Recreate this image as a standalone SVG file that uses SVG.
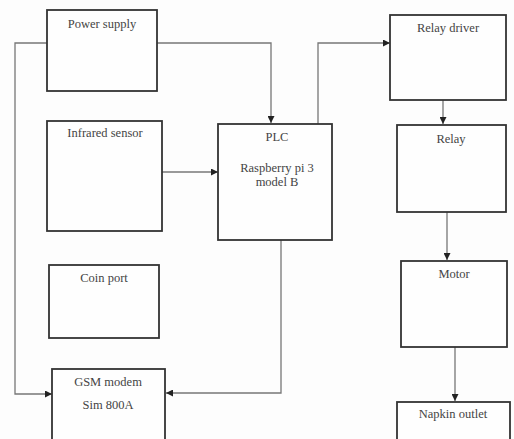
<svg xmlns="http://www.w3.org/2000/svg" width="514" height="439" viewBox="0 0 514 439">
<style>
.box{fill:#fefefe;stroke:#333;stroke-width:1.8}
.t{font-family:"Liberation Serif",serif;font-size:12.5px;fill:#444;text-anchor:middle}
.c{fill:none;stroke:#777;stroke-width:1.3}
</style>
<defs>
<marker id="ah" viewBox="0 0 10 10" refX="10" refY="5" markerWidth="7" markerHeight="7" markerUnits="userSpaceOnUse" orient="auto">
<path d="M0,0 L10,5 L0,10 z" fill="#222"/>
</marker>
</defs>
<rect width="514" height="439" fill="#fdfdfd"/>
<g id="connectors">
<path class="c" d="M47,43 H15 V394 H52" marker-end="url(#ah)"/>
<path class="c" d="M157,43 H271 V123" marker-end="url(#ah)"/>
<path class="c" d="M162,172 H218" marker-end="url(#ah)"/>
<path class="c" d="M318,124 V43 H390" marker-end="url(#ah)"/>
<path class="c" d="M443,100 V124" marker-end="url(#ah)"/>
<path class="c" d="M447,212 V260" marker-end="url(#ah)"/>
<path class="c" d="M455,347 V401" marker-end="url(#ah)"/>
<path class="c" d="M281,240 V393 H166" marker-end="url(#ah)"/>
</g>
<g id="power-supply"><rect class="box" x="47" y="10" width="110" height="81"/><text class="t" x="102" y="28">Power supply</text></g>
<g id="infrared-sensor"><rect class="box" x="47" y="121" width="115" height="110"/><text class="t" x="105" y="137">Infrared sensor</text></g>
<g id="coin-port"><rect class="box" x="49" y="265" width="110" height="73"/><text class="t" x="104" y="282">Coin port</text></g>
<g id="gsm-modem"><rect class="box" x="52" y="369" width="113" height="80"/><text class="t" x="108" y="386">GSM modem</text><text class="t" x="108" y="409">Sim 800A</text></g>
<g id="plc"><rect class="box" x="218" y="124" width="114" height="116"/><text class="t" x="277" y="141">PLC</text><text class="t" x="277" y="172">Raspberry pi 3</text><text class="t" x="277" y="186">model B</text></g>
<g id="relay-driver"><rect class="box" x="390" y="15" width="116" height="85"/><text class="t" x="448" y="32">Relay driver</text></g>
<g id="relay"><rect class="box" x="397" y="125" width="109" height="87"/><text class="t" x="451" y="143">Relay</text></g>
<g id="motor"><rect class="box" x="401" y="261" width="106" height="86"/><text class="t" x="454" y="278">Motor</text></g>
<g id="napkin-outlet"><rect class="box" x="397" y="402" width="113" height="50"/><text class="t" x="453" y="418">Napkin outlet</text></g>
</svg>
